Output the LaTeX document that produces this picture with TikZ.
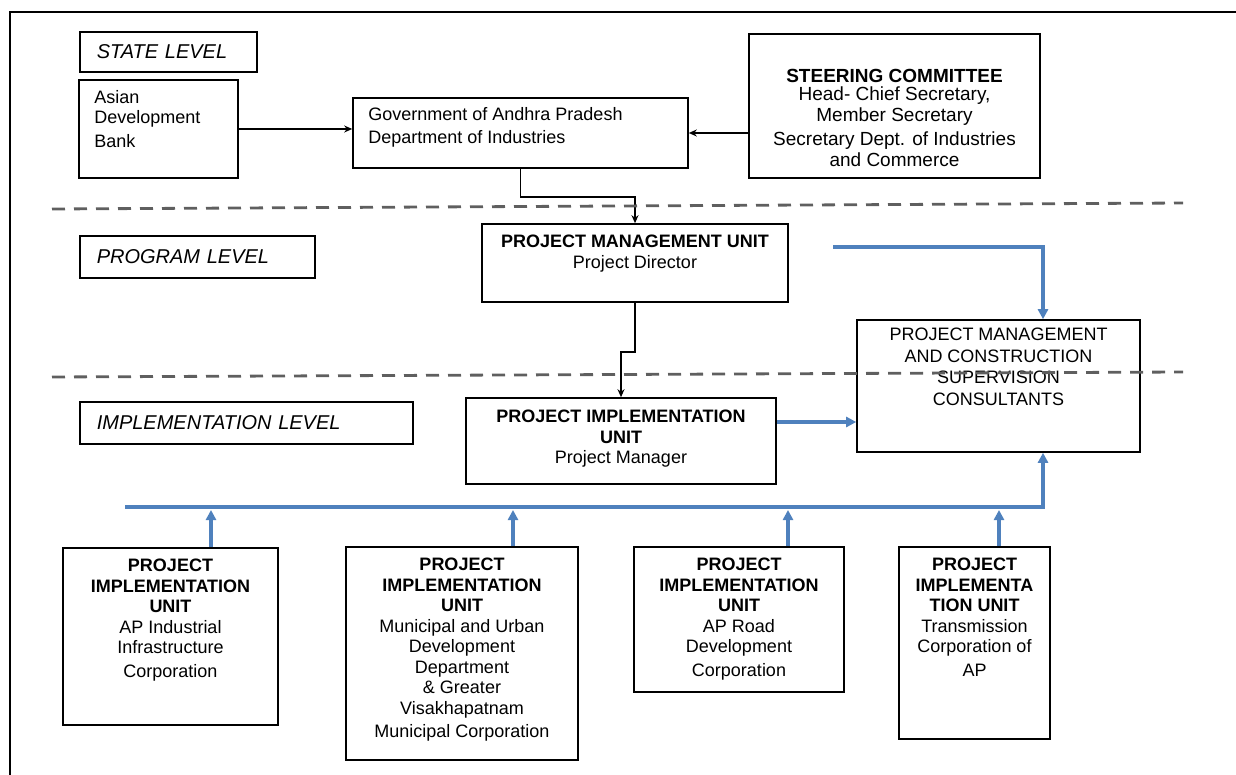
\documentclass[tikz,border=0pt]{standalone}
\usepackage{fontspec}
\setmainfont{Liberation Sans}
\usetikzlibrary{arrows.meta, positioning, calc}
\definecolor{linkblue}{RGB}{79,129,189}
\definecolor{dashgray}{RGB}{95,95,95}

\begin{document}
\begin{tikzpicture}[x=1pt, y=-1pt,
    box/.style={draw, line width=1.6pt, inner sep=0pt},
    levelbox/.style={box, font=\fontsize{20}{24}\selectfont\itshape, align=left, inner xsep=17pt, anchor=west},
    txt/.style={inner sep=0pt, align=center, font=\fontsize{18}{20.5}\selectfont},
    lefttxt/.style={txt, align=left},
    blk/.style={-{Stealth[length=8pt,width=7pt]}, line width=1.6pt},
    blu/.style={-{Triangle[length=10pt,width=10pt]}, draw=linkblue, line width=3.5pt},
    sep/.style={dashgray, line width=2.8pt, dash pattern=on 13pt off 9pt}]
        \useasboundingbox (0,0) rectangle (1236,775);
        \draw[line width=1.6pt] (10,775) -- (10,12) -- (1236,12);

        \node[levelbox, text width=143pt, minimum height=40pt] (statelvl) at (79,52) {STATE LEVEL};
        \node[levelbox, text width=201pt, minimum height=42pt] (proglvl) at (79,257) {PROGRAM LEVEL};
        \node[levelbox, text width=299pt, minimum height=42pt] (impllvl) at (79,423) {IMPLEMENTATION LEVEL};

        \node[box, minimum width=159pt, minimum height=98pt] (adb) at (158.5,129) {};
        \node[box, minimum width=335pt, minimum height=70pt] (gov) at (520.5,133) {};
        \node[box, minimum width=291pt, minimum height=144pt] (steer) at (894.5,106) {};
        \node[box, minimum width=306pt, minimum height=78pt] (pmu) at (635,263) {};
        \node[box, minimum width=310pt, minimum height=86pt] (piu) at (621,441) {};
        \node[box, minimum width=283pt, minimum height=132pt] (pmcsc) at (998.5,386) {};
        \node[box, minimum width=215pt, minimum height=177pt] (pi1) at (170.5,636.5) {};
        \node[box, minimum width=232pt, minimum height=213pt] (pi2) at (462,653.5) {};
        \node[box, minimum width=210pt, minimum height=145pt] (pi3) at (739,619.5) {};
        \node[box, minimum width=151pt, minimum height=192pt] (pi4) at (974.5,643) {};

        \node[lefttxt, below right=11pt and 16pt of adb.north west] {Asian\\Development\\[3pt]Bank};
        \node[lefttxt, font=\fontsize{18}{23}\selectfont, below right=10pt and 16pt of gov.north west] {Government of Andhra Pradesh\\Department of Industries};
        \node[txt, font=\fontsize{19}{21}\selectfont, below=36pt of steer.north] {\textbf{STEERING COMMITTEE}\\[-3pt]Head- Chief Secretary,\\Member Secretary\\[3pt]Secretary Dept. of Industries\\and Commerce};
        \node[txt, below=12pt of pmu.north] {\textbf{PROJECT MANAGEMENT UNIT}\\Project Director};
        \node[txt, below=13pt of piu.north] {\textbf{PROJECT IMPLEMENTATION}\\\textbf{UNIT}\\Project Manager};
        \node[txt, font=\fontsize{18}{21.5}\selectfont, below=9pt of pmcsc.north] {PROJECT MANAGEMENT\\AND CONSTRUCTION\\SUPERVISION\\CONSULTANTS};
        \node[txt, below=12pt of pi1.north] {\textbf{PROJECT}\\\textbf{IMPLEMENTATION}\\\textbf{UNIT}\\AP Industrial\\Infrastructure\\[3pt]Corporation};
        \node[txt, below=12pt of pi2.north] {\textbf{PROJECT}\\\textbf{IMPLEMENTATION}\\\textbf{UNIT}\\Municipal and Urban\\Development\\Department\\\& Greater\\Visakhapatnam\\[3pt]Municipal Corporation};
        \node[txt, below=12pt of pi3.north] {\textbf{PROJECT}\\\textbf{IMPLEMENTATION}\\\textbf{UNIT}\\AP Road\\Development\\[3pt]Corporation};
        \node[txt, below=12pt of pi4.north] {\textbf{PROJECT}\\\textbf{IMPLEMENTA}\\\textbf{TION UNIT}\\Transmission\\Corporation of\\[3pt]AP};

        \draw[blk] (adb.east) -- (adb.east -| gov.west);
        \draw[blk] (gov.east -| steer.west) -- (gov.east);
        \draw[blk] (gov.south) -- ++(0,28) -| (pmu.north);
        \draw[blk] (pmu.south) -- ++(0,49) -| (piu.north);

        \coordinate (busL) at (125,507);
        \coordinate (busR) at (1043,507);
        \coordinate (pmuout) at (833,247);
        \coordinate (piuout) at ([yshift=19pt]piu.east);
        \draw[blu] (pmuout) -| (busR |- pmcsc.north);
        \draw[blu] (piuout) -- (piuout -| pmcsc.west);
        \draw[blu] (busL) -- (busR) -- (busR |- pmcsc.south);
        \foreach \n/\x in {1/211, 2/513, 3/788, 4/999} {
            \coordinate (up\n) at (\x,507);
            \draw[blu, shorten >=3pt] (up\n |- pi\n.north) -- (up\n);
        }

        \draw[sep] (52,209) -- (1183,203);
        \draw[sep] (52,377) -- (1183,372);
    \end{tikzpicture}
\end{document}
